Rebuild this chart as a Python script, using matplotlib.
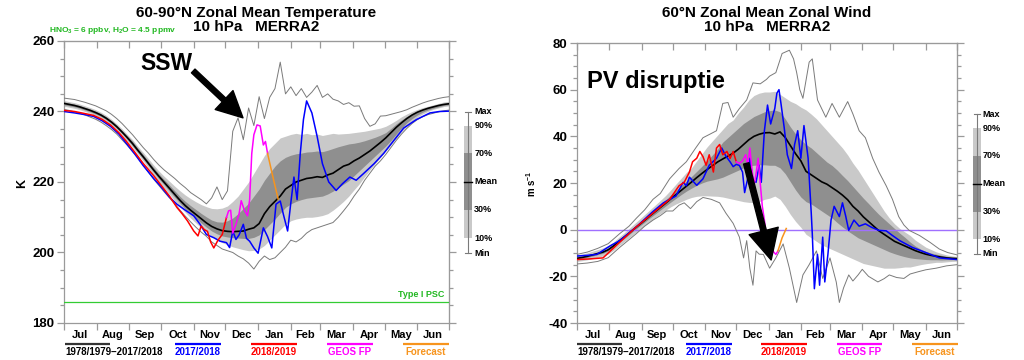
import numpy as np
import matplotlib
matplotlib.use("Agg")
import matplotlib.pyplot as plt
from matplotlib.patches import Rectangle
from matplotlib.ticker import MultipleLocator

plt.rcParams['font.family'] = ['Liberation Sans', 'DejaVu Sans']
plt.rcParams['font.weight'] = 'bold'
plt.rcParams['mathtext.fontset'] = 'custom'
plt.rcParams['mathtext.rm'] = 'Liberation Sans:bold'
plt.rcParams['mathtext.bf'] = 'Liberation Sans:bold'
plt.rcParams['mathtext.it'] = 'Liberation Sans:bold:italic'
plt.rcParams['axes.unicode_minus'] = False

# ---------------- data ----------------
months = ['Jul', 'Aug', 'Sep', 'Oct', 'Nov', 'Dec', 'Jan', 'Feb', 'Mar', 'Apr', 'May', 'Jun']
month_start = [0, 31, 62, 92, 123, 153, 184, 215, 243, 274, 304, 335, 365]
day5 = np.arange(0, 366, 5)          # days since 1 Jul, climatology grid

# 60-90N temperature, 10 hPa (K)
t_mean = [242.3, 242.0, 241.7, 241.3, 240.8, 240.3, 239.7, 239.0, 238.1, 237.0,
          235.7, 234.2, 232.6, 230.9, 229.0, 227.2, 225.3, 223.4, 221.6, 219.9,
          218.2, 216.5, 214.8, 213.3, 212.0, 210.8, 209.6, 208.4, 207.4, 206.7,
          206.2, 206.0, 205.9, 206.0, 206.1, 206.6, 207.0, 208.2, 211.0, 213.0,
          214.5, 216.0, 218.0, 219.0, 220.0, 220.5, 221.0, 221.2, 221.5, 221.3,
          222.0, 222.5, 223.5, 224.5, 225.0, 226.0, 226.8, 227.8, 228.8, 230.0,
          231.2, 232.5, 234.0, 235.5, 236.8, 238.0, 239.0, 239.8, 240.4, 240.9,
          241.3, 241.7, 242.0, 242.2]
t_p90 = [243.1, 242.8, 242.5, 242.1, 241.6, 241.1, 240.5, 239.8, 238.9, 237.8,
         236.5, 235.1, 233.5, 232.0, 230.1, 228.4, 226.6, 224.8, 223.1, 221.6,
         220.2, 218.8, 217.5, 216.3, 215.3, 214.4, 213.6, 213.0, 212.5, 212.4,
         212.6, 213.2, 214.5, 216.0, 218.0, 220.0, 222.5, 225.0, 227.5, 229.5,
         231.0, 232.5, 233.0, 233.5, 233.8, 233.5, 233.8, 233.4, 233.6, 233.2,
         233.5, 233.8, 233.6, 233.7, 233.8, 234.0, 234.2, 234.4, 234.7, 235.0,
         235.3, 235.8, 236.6, 237.5, 238.5, 239.3, 240.0, 240.6, 241.1, 241.5,
         241.9, 242.3, 242.7, 242.9]
t_p70 = [242.7, 242.4, 242.1, 241.7, 241.2, 240.7, 240.1, 239.4, 238.5, 237.4,
         236.1, 234.6, 233.1, 231.5, 229.6, 227.8, 225.9, 224.1, 222.3, 220.7,
         219.1, 217.5, 215.9, 214.5, 213.3, 212.2, 211.1, 210.1, 209.2, 208.7,
         208.6, 209.0, 209.8, 211.0, 212.5, 214.0, 216.0, 218.0, 220.5, 222.5,
         224.5, 226.0, 227.0, 227.6, 228.0, 228.2, 228.5, 228.6, 228.8, 228.6,
         229.0, 229.5, 230.0, 230.4, 230.8, 231.0, 231.3, 231.7, 232.2, 232.7,
         233.3, 234.0, 235.2, 236.5, 237.6, 238.6, 239.4, 240.1, 240.7, 241.2,
         241.6, 242.0, 242.3, 242.5]
t_p30 = [241.9, 241.6, 241.3, 240.9, 240.4, 239.9, 239.3, 238.6, 237.7, 236.6,
         235.3, 233.8, 232.1, 230.3, 228.4, 226.6, 224.7, 222.8, 220.9, 219.2,
         217.4, 215.7, 214.0, 212.4, 211.0, 209.7, 208.4, 207.2, 206.1, 205.3,
         204.7, 204.4, 204.2, 204.1, 204.0, 204.0, 204.3, 205.0, 206.5, 208.0,
         209.5, 211.2, 212.8, 213.8, 214.5, 215.0, 215.4, 215.6, 215.8, 216.0,
         216.6, 217.4, 218.4, 219.4, 220.4, 221.8, 223.2, 224.6, 226.0, 227.4,
         228.8, 230.2, 231.8, 233.6, 235.3, 236.8, 238.0, 239.0, 239.8, 240.4,
         240.9, 241.3, 241.7, 241.9]
t_p10 = [241.5, 241.2, 240.9, 240.5, 240.0, 239.5, 238.9, 238.2, 237.3, 236.2,
         234.9, 233.3, 231.6, 229.8, 227.9, 226.0, 224.0, 222.0, 220.1, 218.3,
         216.5, 214.7, 213.0, 211.4, 209.8, 208.4, 207.0, 205.8, 204.6, 203.6,
         202.8, 202.2, 201.6, 201.2, 200.8, 200.5, 200.6, 201.0, 202.0, 203.5,
         205.0, 206.5, 208.0, 209.0, 209.5, 209.8, 210.0, 210.0, 210.2, 210.5,
         211.0, 212.0, 213.2, 214.5, 216.0, 217.8, 219.5, 221.5, 223.4, 225.2,
         227.0, 228.8, 230.6, 232.4, 234.2, 235.8, 237.2, 238.4, 239.3, 240.0,
         240.6, 241.0, 241.4, 241.6]
t_max = [243.8, 243.6, 243.4, 243.0, 242.6, 242.1, 241.6, 240.9, 240.2, 239.2,
         238.0, 236.6, 235.0, 233.4, 231.6, 229.8, 228.2, 226.4, 224.8, 223.4,
         222.2, 221.0, 219.6, 218.4, 217.0, 216.0, 215.0, 213.8, 215.5, 218.6,
         215.0, 217.5, 234.4, 238.2, 232.0, 241.0, 236.0, 244.2, 238.0, 244.0,
         246.5, 254.0, 245.0, 247.0, 244.5, 246.5, 244.0, 245.5, 247.4, 244.0,
         245.0, 243.5, 243.0, 242.0, 242.5, 241.5, 241.6, 238.0, 235.8, 236.5,
         238.7, 238.8, 239.2, 239.6, 240.0, 240.5, 241.2, 241.8, 242.4, 242.9,
         243.3, 243.7, 244.0, 244.2]
t_min = [240.6, 240.3, 239.9, 239.5, 239.0, 238.4, 237.8, 237.0, 236.0, 234.9,
         233.6, 232.0, 230.4, 228.6, 226.8, 224.8, 222.8, 220.8, 219.0, 217.2,
         215.5, 213.8, 212.0, 210.3, 208.7, 207.2, 205.8, 204.6, 203.0, 202.0,
         201.0, 200.5, 200.0, 199.0, 198.2, 197.0, 195.3, 197.5, 199.0, 198.0,
         198.5, 200.0, 201.5, 203.5, 203.0, 204.0, 205.5, 206.5, 207.0, 207.5,
         208.0, 208.5, 210.0, 211.8, 213.7, 216.0, 218.0, 220.5, 222.5, 224.5,
         226.0, 227.8, 229.8, 231.8, 233.6, 235.2, 236.6, 237.7, 238.5, 239.1,
         239.5, 239.9, 240.2, 240.4]

t_blue_day = [0, 10, 20, 28, 36, 44, 52, 59, 67, 75, 85, 91, 100, 107, 115, 123, 129, 135, 142, 148,
              154, 157, 160, 163, 166, 170, 173, 176, 180, 184, 189, 193, 197, 201, 205, 208, 212, 215, 218, 221,
              224, 227, 230, 235, 240, 245, 251, 258, 264, 271, 277, 284, 294, 303, 313, 322, 334, 347, 356, 365]
t_blue = [240.0, 239.6, 239.1, 238.6, 237.4, 235.8, 233.6, 231.0, 228.0, 224.7,
          221.0, 219.0, 215.7, 213.7, 212.0, 210.4, 208.0, 205.1, 204.2, 203.2,
          202.8, 201.4, 206.1, 203.7, 205.0, 208.0, 204.0, 203.2, 201.3, 199.8,
          207.0, 204.5, 201.3, 213.7, 214.6, 210.8, 206.1, 214.0, 221.4, 215.0,
          228.1, 237.7, 243.0, 239.6, 232.9, 225.2, 220.0, 217.6, 219.5, 221.4,
          220.5, 222.4, 225.2, 228.1, 231.9, 235.3, 237.7, 239.6, 240.0, 240.1]
t_red_day = [0, 10, 20, 28, 36, 44, 52, 59, 67, 75, 85, 91, 100, 107, 112, 117, 123, 127, 130, 133,
             136, 139, 142, 146, 150, 154]
t_red = [240.3, 240.0, 239.4, 238.9, 237.8, 236.2, 234.0, 231.6, 228.5, 225.3,
         221.8, 219.5, 216.0, 212.8, 211.0, 209.0, 206.1, 204.7, 207.5, 206.5,
         206.0, 203.0, 201.3, 203.5, 205.1, 209.9]
t_geos_day = [154, 156, 158, 160, 163, 166, 168, 171, 174, 176, 178, 180, 183, 186, 189, 191, 193]
t_geos = [209.9, 211.8, 212.0, 205.5, 208.0, 211.0, 214.7, 212.0, 210.4, 215.0,
          228.1, 233.4, 236.2, 235.9, 230.5, 231.5, 228.1]
t_fc_day = [193, 198, 203]
t_fc = [228.1, 221.5, 215.2]
psc_T = 186.0

# 60N zonal mean zonal wind, 10 hPa (m/s)
u_mean = [-12.3, -11.9, -11.4, -10.8, -10.2, -9.6, -8.6, -7.0, -5.0, -3.3,
          -1.5, 0.4, 2.2, 4.0, 5.9, 7.7, 9.5, 11.3, 13.2, 15.0,
          16.8, 18.6, 20.4, 22.3, 24.1, 25.8, 27.4, 29.0, 30.3, 31.5,
          32.8, 34.5, 36.5, 38.5, 40.0, 40.9, 41.5, 41.6, 41.0, 41.9,
          39.5, 36.0, 32.5, 29.5, 25.0, 23.5, 22.0, 20.5, 19.5, 18.0,
          16.5, 14.8, 12.8, 10.0, 8.0, 5.5, 3.5, 1.5, -0.5, -2.0,
          -3.5, -5.0, -6.0, -7.0, -8.0, -9.0, -9.8, -10.5, -11.0, -11.4,
          -11.8, -12.1, -12.3, -12.4]
u_p90 = [-10.8, -10.4, -9.9, -9.2, -8.5, -7.8, -6.8, -5.3, -3.3, -1.5,
         0.5, 2.5, 4.5, 6.5, 8.5, 10.5, 12.5, 14.6, 17.0, 19.5,
         22.0, 24.5, 26.5, 29.5, 32.5, 35.5, 38.0, 40.5, 43.0, 45.5,
         47.0, 50.0, 52.5, 55.5, 57.5, 58.5, 59.0, 59.0, 59.3, 58.0,
         56.5, 55.0, 54.0, 52.5, 51.3, 49.5, 47.5, 45.0, 42.5, 40.0,
         37.5, 35.0, 32.0, 28.5, 25.5, 22.0, 18.5, 15.0, 11.5, 8.0,
         5.0, 2.5, 0.5, -1.0, -2.5, -4.5, -6.0, -7.5, -8.5, -9.5,
         -10.2, -10.8, -11.2, -11.5]
u_p70 = [-11.8, -11.4, -10.9, -10.3, -9.7, -9.0, -8.0, -6.4, -4.4, -2.6,
         -0.8, 1.2, 3.0, 4.9, 6.9, 8.8, 10.8, 12.8, 14.8, 16.8,
         18.8, 20.8, 22.8, 25.0, 27.2, 29.5, 32.0, 34.5, 37.5, 39.5,
         41.5, 43.5, 45.5, 47.0, 48.5, 49.5, 50.5, 51.0, 51.3, 50.5,
         47.5, 44.0, 41.0, 38.5, 36.5, 35.0, 33.0, 31.0, 29.0, 27.5,
         25.5, 23.2, 21.0, 18.5, 16.0, 13.5, 11.2, 8.8, 6.5, 4.5,
         2.5, 0.5, -1.5, -3.3, -5.3, -7.0, -8.3, -9.3, -10.0, -10.5,
         -11.0, -11.4, -11.7, -11.9]
u_p30 = [-12.8, -12.4, -11.9, -11.3, -10.7, -10.1, -9.1, -7.6, -5.6, -3.9,
         -2.1, -0.3, 1.5, 3.2, 5.0, 6.7, 8.4, 10.1, 11.8, 13.4,
         15.0, 16.5, 17.8, 19.0, 20.0, 20.8, 21.3, 21.8, 22.5, 23.5,
         24.5, 25.5, 26.5, 27.3, 27.6, 27.8, 27.8, 27.6, 27.6, 26.5,
         24.0, 20.5, 17.0, 14.0, 12.0, 11.0, 9.5, 8.0, 6.5, 5.0,
         3.0, 1.2, -0.5, -2.0, -3.5, -4.5, -5.5, -6.5, -7.5, -8.5,
         -9.5, -10.3, -11.0, -11.6, -12.1, -12.4, -12.6, -12.8, -12.9, -12.9,
         -13.0, -12.9, -12.9, -12.9]
u_p10 = [-13.6, -13.3, -12.9, -12.4, -11.8, -11.3, -10.4, -8.9, -7.0, -5.3,
         -3.5, -1.7, 0.0, 1.8, 3.5, 5.2, 6.8, 8.3, 9.8, 11.0,
         12.0, 13.0, 13.8, 14.3, 14.5, 14.5, 14.4, 14.3, 14.0, 13.5,
         13.0, 12.5, 12.0, 11.7, 11.6, 12.0, 13.0, 13.5, 14.4, 13.0,
         10.0, 6.5, 3.5, 1.0, -2.0, -3.5, -5.0, -6.5, -7.5, -8.5,
         -9.5, -10.5, -11.5, -12.5, -13.5, -14.5, -15.0, -15.5, -16.0, -16.5,
         -16.5, -16.5, -16.3, -16.0, -16.0, -15.5, -15.0, -14.6, -14.3, -14.0,
         -14.0, -13.8, -13.6, -13.5]
u_max_day = [0, 10, 20, 30, 41, 50, 57, 65, 73, 80, 89, 98, 105, 114, 121, 128, 134, 140, 145, 150,
             156, 163, 169, 176, 182, 185, 191, 197, 204, 208, 211, 214, 217, 223, 226, 231, 239, 245, 252, 260,
             265, 271, 277, 284, 290, 297, 303, 309, 314, 319, 329, 339, 348, 356, 365]
u_max = [-10.6, -9.6, -8.0, -6.0, -1.7, 1.5, 4.9, 8.5, 13.0, 15.5,
         21.8, 26.2, 29.1, 35.0, 39.4, 41.0, 42.4, 54.1, 54.5, 48.2,
         51.9, 55.6, 62.9, 62.5, 64.4, 65.8, 67.3, 75.5, 76.9, 73.2,
         67.3, 60.0, 56.3, 71.8, 73.2, 55.6, 48.2, 54.1, 48.2, 54.9,
         49.6, 42.4, 39.4, 30.6, 24.7, 18.8, 13.0, 5.6, 2.0, -0.3,
         -2.5, -5.4, -8.3, -9.8, -10.8]
u_min_day = [0, 10, 20, 30, 41, 50, 57, 65, 73, 80, 86, 92, 98, 103, 109, 115, 121, 129, 137, 143,
             150, 156, 160, 163, 166, 169, 172, 175, 179, 185, 191, 198, 204, 211, 217, 223, 230, 236, 243, 249,
             252, 256, 261, 265, 270, 274, 280, 289, 295, 300, 307, 314, 320, 328, 335, 345, 355, 365]
u_min = [-14.7, -14.3, -13.6, -12.0, -7.6, -4.3, -1.7, 1.5, 4.1, 6.0,
         8.0, 8.0, 10.5, 11.5, 9.0, 12.0, 13.8, 13.0, 11.5, 7.1,
         2.7, -3.2, -12.1, -4.7, -16.5, -23.8, -9.1, -10.5, -10.6, -16.5,
         -12.1, -6.1, -16.5, -31.2, -19.4, -15.0, -9.1, -20.9, -12.1, -22.4,
         -31.2, -25.0, -19.4, -22.0, -19.4, -17.0, -20.0, -22.4, -21.0, -19.4,
         -20.5, -20.9, -19.0, -18.0, -17.2, -16.5, -15.5, -15.0]
u_blue_day = [0, 10, 19, 32, 41, 57, 73, 83, 89, 95, 102, 105, 108, 115, 121, 127, 134, 139, 143, 147,
              150, 153, 156, 159, 161, 164, 166, 169, 172, 175, 177, 180, 183, 186, 190, 192, 194, 196, 199, 202,
              206, 209, 212, 215, 218, 222, 225, 226, 228, 231, 233, 236, 238, 241, 244, 247, 252, 255, 258, 261,
              266, 271, 277, 283, 290, 297, 303, 310, 322, 335, 348, 365]
u_blue = [-11.3, -11.0, -10.6, -6.9, -4.7, 1.2, 7.8, 11.5, 13.0, 14.4,
          20.3, 18.8, 22.5, 19.0, 21.8, 27.6, 30.6, 35.0, 31.5, 29.1,
          27.0, 28.0, 27.5, 24.7, 15.9, 22.0, 30.6, 21.0, 20.3, 27.6,
          20.3, 42.4, 53.4, 45.3, 52.0, 58.5, 60.0, 53.8, 43.8, 32.1,
          26.2, 36.5, 42.4, 30.6, 44.6, 30.6, 7.1, -1.7, -25.3, -10.6,
          -23.8, -3.2, -22.4, -10.6, 4.1, 10.0, 5.6, 11.5, 6.0, -0.3,
          4.1, 1.5, 2.5, 1.0, -0.3, -0.5, -2.5, -4.7, -7.6, -9.8,
          -12.1, -12.8]
u_red_day = [0, 10, 25, 41, 57, 73, 89, 98, 103, 108, 111, 115, 118, 121, 124, 127, 131, 134, 137, 140,
             144, 147, 150, 153]
u_red = [-12.8, -12.6, -12.1, -5.4, 1.2, 7.1, 13.0, 18.8, 20.3, 24.7,
         29.1, 30.6, 33.5, 31.3, 27.6, 32.1, 24.7, 35.0, 36.5, 32.1,
         33.5, 30.5, 33.5, 29.1]
u_geos_day = [153, 156, 159, 162, 164, 166, 168, 170, 172, 174, 176, 178, 180, 182, 185, 188, 191, 193]
u_geos = [29.1, 28.4, 29.5, 32.1, 27.6, 35.0, 26.2, 18.8, 24.0, 30.6,
          20.0, 10.0, 4.1, -3.2, -7.6, -9.1, -10.6, -9.1]
u_fc_day = [193, 197, 201]
u_fc = [-9.1, -3.5, 0.5]

legend_names = ['1978/1979\u20132017/2018', '2017/2018', '2018/2019', 'GEOS FP', 'Forecast']
key_names = ['Max', '90%', '70%', 'Mean', '30%', '10%', 'Min']

# ---------------- style ----------------
LIGHT = '#c9c9c9'
DARK = '#8f8f8f'
SPINE = '#9a9a9a'
EXTREME = '#7a7a7a'
BLUE = '#0000ff'
RED = '#ff0000'
MAGENTA = '#ff00ff'
ORANGE = '#f7941d'
GREEN = '#33cc33'
series_colors = ['#333333', BLUE, RED, MAGENTA, ORANGE]

fig = plt.figure(figsize=(10.24, 3.6), dpi=100)
ax_t = fig.add_axes([64 / 1024, 37 / 360, 385 / 1024, 282 / 360])
ax_u = fig.add_axes([577 / 1024, 37 / 360, 380 / 1024, 280 / 360])
ov = fig.add_axes([0, 0, 1, 1], zorder=5)
ov.set_xlim(0, 1024)
ov.set_ylim(360, 0)
ov.axis('off')

mids = [(a + b) / 2 for a, b in zip(month_start[:-1], month_start[1:])]


def draw_panel(ax, p10, p30, mean, p70, p90, mx_d, mx, mn_d, mn, series):
    ax.fill_between(day5, p10, p90, color=LIGHT, lw=0, zorder=1)
    ax.fill_between(day5, p30, p70, color=DARK, lw=0, zorder=2)
    ax.plot(mx_d, mx, color=EXTREME, lw=0.7, zorder=3)
    ax.plot(mn_d, mn, color=EXTREME, lw=0.7, zorder=3)
    ax.plot(day5, mean, color='black', lw=1.2, zorder=4)
    for (d, v), c in zip(series, [BLUE, RED, MAGENTA, ORANGE]):
        ax.plot(d, v, color=c, lw=1.1, zorder=5)


def style(ax, ylim, ymaj):
    ax.set_xlim(0, 365)
    ax.set_ylim(*ylim)
    for s in ax.spines.values():
        s.set_color(SPINE)
        s.set_linewidth(0.9)
    ax.set_xticks(month_start)
    ax.set_xticks(mids, minor=True)
    ax.set_xticklabels(months, minor=True)
    ax.tick_params(axis='x', which='major', labelbottom=False, direction='out',
                   length=5, width=0.9, color=SPINE)
    ax.tick_params(axis='x', which='minor', length=0, pad=5, labelsize=8)
    ax.yaxis.set_major_locator(MultipleLocator(ymaj))
    ax.yaxis.set_minor_locator(MultipleLocator(5))
    ax.tick_params(axis='y', which='major', direction='out', length=5, width=0.9,
                   color=SPINE, labelsize=9.5, pad=2)
    ax.tick_params(axis='y', which='minor', direction='out', length=3, width=0.9, color=SPINE)
    top = ax.secondary_xaxis('top')
    top.set_xticks(month_start)
    top.tick_params(direction='in', length=5, width=0.9, color=SPINE, labeltop=False)
    top.spines['top'].set_color(SPINE)
    right = ax.secondary_yaxis('right')
    right.yaxis.set_major_locator(MultipleLocator(ymaj))
    right.yaxis.set_minor_locator(MultipleLocator(5))
    right.tick_params(which='major', direction='out', length=5, width=0.9, color=SPINE, labelright=False)
    right.tick_params(which='minor', direction='out', length=3, width=0.9, color=SPINE, labelright=False)
    right.spines['right'].set_color(SPINE)


# ---- temperature panel ----
draw_panel(ax_t, t_p10, t_p30, t_mean, t_p70, t_p90, day5, t_max, day5, t_min,
           [(t_blue_day, t_blue), (t_red_day, t_red), (t_geos_day, t_geos), (t_fc_day, t_fc)])
style(ax_t, (180, 260), 20)
ax_t.axhline(psc_T, color=GREEN, lw=0.9, zorder=3)
ax_t.text(361, psc_T + 0.8, 'Type I PSC', color='#22b822', fontsize=6.5, ha='right', va='bottom')
ax_t.text(72, 251.8, 'SSW', fontsize=16.5, ha='left', va='baseline', zorder=7)
ax_t.annotate('', xy=(169.7, 238.2), xytext=(122.5, 251.5),
              arrowprops=dict(arrowstyle='simple,head_length=1.1,head_width=1.1,tail_width=0.22',
                              fc='black', ec='black', mutation_scale=17, shrinkA=0, shrinkB=0),
              zorder=7)

# ---- wind panel ----
draw_panel(ax_u, u_p10, u_p30, u_mean, u_p70, u_p90, u_max_day, u_max, u_min_day, u_min,
           [(u_blue_day, u_blue), (u_red_day, u_red), (u_geos_day, u_geos), (u_fc_day, u_fc)])
style(ax_u, (-40, 80), 20)
ax_u.axhline(0, color='#a070ff', lw=1.0, zorder=2.5)
ax_u.text(9.6, 60.6, 'PV disruptie', fontsize=17, ha='left', va='baseline', zorder=7)
ax_u.annotate('', xy=(186.5, -13.0), xytext=(162.6, 28.4),
              arrowprops=dict(arrowstyle='simple,head_length=1.2,head_width=1.2,tail_width=0.22',
                              fc='black', ec='black', mutation_scale=18, shrinkA=0, shrinkB=0),
              zorder=7)

# ---- titles and labels ----
ov.text(256, 13, '60-90\u00b0N Zonal Mean Temperature', fontsize=11, ha='center', va='center')
ov.text(256, 27, '10 hPa   MERRA2', fontsize=11, ha='center', va='center')
ov.text(767, 13, '60\u00b0N Zonal Mean Zonal Wind', fontsize=11, ha='center', va='center')
ov.text(767, 27, '10 hPa   MERRA2', fontsize=11, ha='center', va='center')
ov.text(49, 31, r'HNO$_\mathbf{3}$ = 6 ppbv, H$_\mathbf{2}$O = 4.5 ppmv', color='#22b822',
        fontsize=6, ha='left', va='center')
ov.text(22, 184, 'K', fontsize=9, rotation=90, ha='center', va='center')
ov.text(531, 184, r'm s$^{\mathbf{-1}}$', fontsize=7, rotation=90, ha='center', va='center')


def draw_key(x, ys):
    y_max, y90, y70, ymean, y30, y10, y_min = ys
    ov.plot([x, x], [y_max, y_min], color=EXTREME, lw=0.8)
    ov.plot([x - 3, x + 3], [y_max, y_max], color=EXTREME, lw=0.8)
    ov.plot([x - 3, x + 3], [y_min, y_min], color=EXTREME, lw=0.8)
    ov.add_patch(Rectangle((x - 4, y90), 8, y10 - y90, color=LIGHT, lw=0))
    ov.add_patch(Rectangle((x - 4, y70), 8, y30 - y70, color=DARK, lw=0))
    ov.plot([x - 4, x + 4], [ymean, ymean], color='black', lw=1.0)
    for name, y in zip(key_names, ys):
        ov.text(x + 6, y, name, fontsize=6.5, ha='left', va='center')


draw_key(468.3, [111.7, 126, 153.3, 181.7, 210, 238.3, 253.3])
draw_key(976.7, [114.3, 128.3, 156, 184, 211.7, 239.3, 254])


def draw_legend(segments):
    for i, ((x0, x1), name, c) in enumerate(zip(segments, legend_names, series_colors)):
        ov.plot([x0, x1], [343.5, 343.5], color=c, lw=1.6, solid_capstyle='butt')
        tc = 'black' if i == 0 else c
        if i == 0:
            ov.text(x0, 352, name, fontsize=7, color=tc, ha='left', va='center')
        else:
            ov.text((x0 + x1) / 2, 352, name, fontsize=7, color=tc, ha='center', va='center')


draw_legend([(65, 110), (175, 221), (251, 297), (327, 373), (403, 449)])
draw_legend([(577, 622), (686, 732), (761, 807), (837, 882), (912, 958)])

fig.savefig('out.png', dpi=100)
